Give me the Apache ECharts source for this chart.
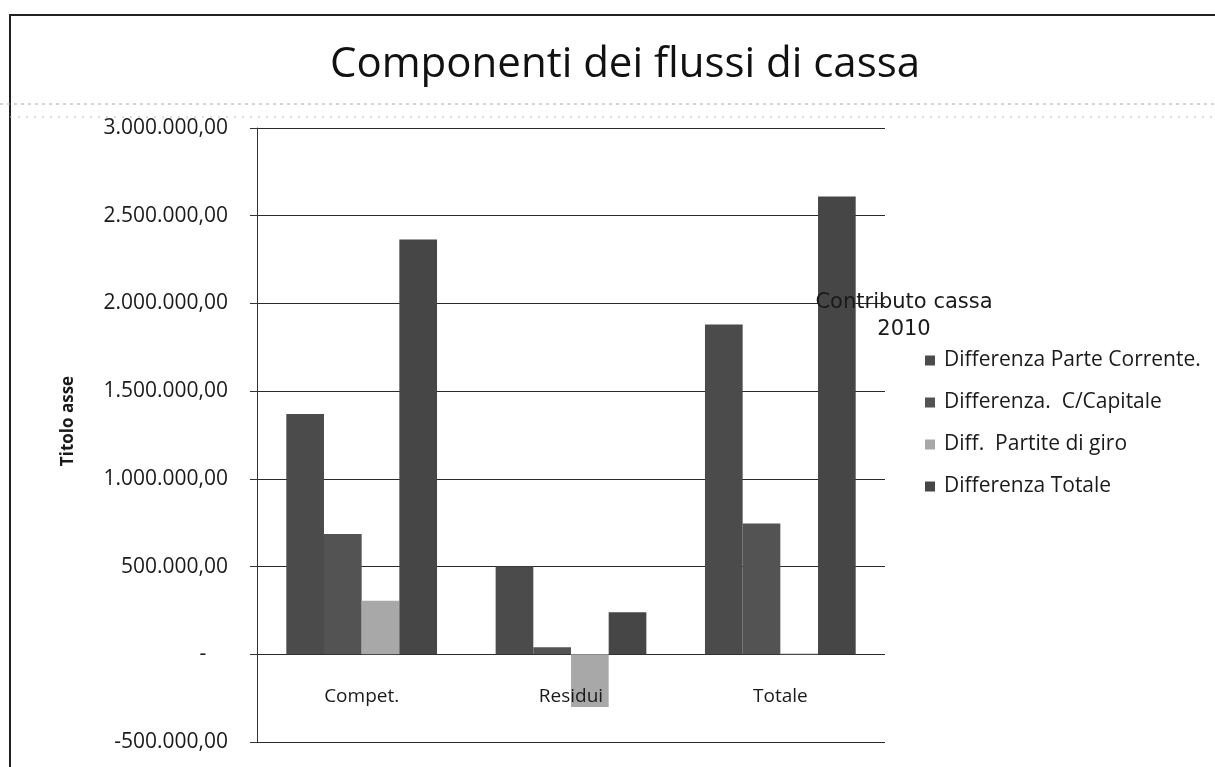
<!DOCTYPE html>
<html>
<head>
<meta charset="utf-8">
<script src="https://cdn.jsdelivr.net/npm/echarts@6/dist/echarts.min.js"></script>
<style>
  html, body { margin: 0; padding: 0; background: #fff; }
  #chart { width: 1215px; height: 767px; }
</style>
</head>
<body>
<div id="chart"></div>
<script>
const categories = ['Compet.', 'Residui', 'Totale']
const seriesNames = ['Differenza Parte Corrente.', 'Differenza.  C/Capitale', 'Diff.  Partite di giro', 'Differenza Totale']
const parteCorrente = [1370000, 500000, 1880000]
const cCapitale = [685000, 40000, 745000]
const partiteGiro = [305000, -300000, 5000]
const diffTotale = [2365000, 240000, 2610000]
const COLORS = ['#4b4b4b', '#535353', '#a8a8a8', '#464646']

// numeri all'italiana: 1.500.000,00
function fmtIt(v) {
  if (v === 0) return '-    '
  const neg = v < 0
  const s = Math.abs(v).toFixed(0).replace(/\B(?=(\d{3})+(?!\d))/g, '.')
  return (neg ? '-' : '') + s + ',00'
}

const FONT = '"Open Sans", Lato, sans-serif'
const chart = echarts.init(document.getElementById('chart'))

chart.setOption({
  animation: false,
  color: COLORS,
  title: [
    {
      text: 'Componenti dei flussi di cassa',
      left: 620, top: 39, textAlign: 'center',
      textStyle: { fontFamily: FONT, fontSize: 42, fontWeight: 'normal', color: '#111' }
    },
    {
      text: 'Contributo cassa\n2010',
      left: 899, top: 284, textAlign: 'center',
      textStyle: { fontFamily: '"DejaVu Sans", sans-serif', fontSize: 21, fontWeight: 'normal', color: '#1a1a1a', lineHeight: 27 }
    }
  ],
  legend: {
    orient: 'vertical', left: 920, top: 345,
    itemWidth: 10, itemHeight: 10, itemGap: 21, icon: 'rect',
    data: seriesNames,
    textStyle: { fontFamily: FONT, fontSize: 21, color: '#1a1a1a', padding: [0, 0, 0, 4] }
  },
  grid: { left: 257, right: 330, top: 128, bottom: 25, outerBoundsMode: 'none', containLabel: false },
  xAxis: {
    type: 'category', data: categories, z: 5,
    axisLine: { show: false, onZero: false },
    axisTick: { show: false },
    axisLabel: { margin: -55, fontFamily: FONT, fontSize: 19, color: '#1a1a1a' }
  },
  yAxis: {
    type: 'value', min: -500000, max: 3000000, interval: 500000,
    name: 'Titolo asse', nameLocation: 'middle', nameGap: 180, nameRotate: 90,
    nameTextStyle: { fontFamily: FONT, fontSize: 17, fontWeight: 'bold', color: '#1a1a1a', padding: [0, 0, 0, 28] },
    axisLine: { show: true, lineStyle: { color: '#333' } },
    axisTick: { show: true, length: 7, lineStyle: { color: '#333' } },
    axisLabel: { margin: 29, fontFamily: FONT, fontSize: 21, color: '#1a1a1a', formatter: fmtIt },
    splitLine: { lineStyle: { color: '#2a2a2a', width: 1 } }
  },
  series: [
    { name: seriesNames[0], type: 'bar', data: parteCorrente, barGap: 0, barCategoryGap: '28%' },
    { name: seriesNames[1], type: 'bar', data: cCapitale },
    { name: seriesNames[2], type: 'bar', data: partiteGiro },
    { name: seriesNames[3], type: 'bar', data: diffTotale }
  ],
  graphic: [
    { type: 'rect', shape: { x: 10, y: 15, width: 1230, height: 770 },
      style: { fill: 'none', stroke: '#222', lineWidth: 2 }, silent: true },
    { type: 'line', shape: { x1: 0, y1: 104, x2: 1215, y2: 104 },
      style: { stroke: '#aaa', lineWidth: 1, lineDash: [3, 4] }, silent: true },
    { type: 'line', shape: { x1: 10, y1: 117, x2: 1215, y2: 117 },
      style: { stroke: '#bbb', lineWidth: 1, lineDash: [2, 6] }, silent: true }
  ]
})
</script>
</body>
</html>
